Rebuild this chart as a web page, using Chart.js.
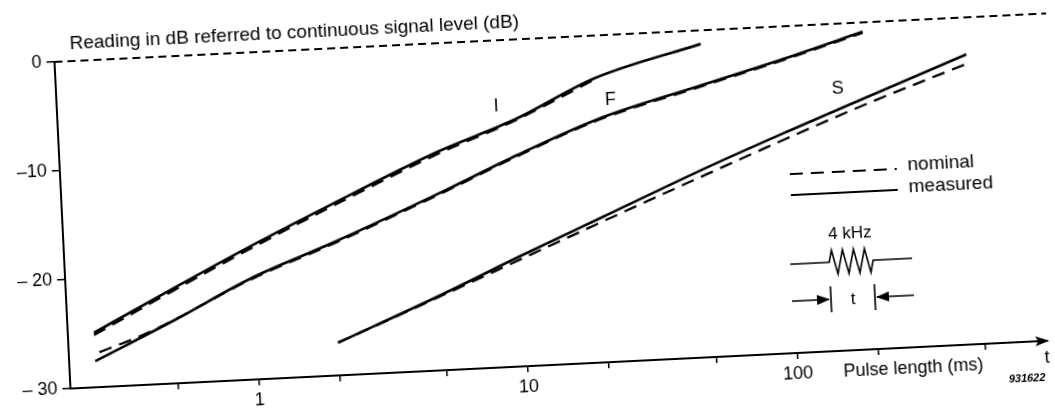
<!DOCTYPE html>
<html lang="en">
<head>
  <meta charset="UTF-8">
  <title>Reading vs pulse length</title>
  <script src="https://cdn.jsdelivr.net/npm/chart.js"></script>
  <style>
    html, body { margin: 0; padding: 0; background: #fff; overflow: hidden; }
    /* the source is a slightly skewed scan, so the whole sheet is turned a little */
    #wrap { width: 1055px; height: 408px; transform: rotate(-2.8deg); transform-origin: 50% 50%; }
  </style>
</head>
<body>
  <div id="wrap"><canvas id="chart" width="1055" height="408"></canvas></div>

  <script>
    // pulse length (ms) and reading (dB) per detector curve
    const iTimes = [0.25, 0.5, 1, 2, 5, 10, 20, 50];
    const iMeasured = [-25.0, -21.3, -17.7, -14.3, -10.0, -7.3, -3.9, -1.25];
    const iNomTimes = [0.25, 0.5, 1, 2, 5, 10, 20];
    const iNominal = [-25.2, -21.5, -17.9, -14.5, -10.2, -7.4, -4.0];

    const fTimes = [0.25, 0.5, 1, 2, 5, 10, 20, 50, 100, 200];
    const fMeasured = [-27.6, -24.2, -20.6, -17.8, -13.8, -10.6, -7.7, -5.0, -3.0, -0.85];
    const fNomTimes = [0.26, 0.4, 1, 2, 5, 10, 20, 50, 100, 200];
    const fNominal = [-26.8, -25.2, -20.7, -17.9, -13.9, -10.7, -7.8, -5.1, -3.1, -0.95];

    const sTimes = [2, 5, 10, 20, 50, 100, 200, 480];
    const sMeasured = [-27.0, -23.0, -19.8, -16.7, -12.6, -9.7, -6.9, -3.4];
    const sNomTimes = [2, 5, 10, 20, 50, 100, 200, 500];
    const sNominal = [-27.0, -23.1, -20.1, -17.1, -13.2, -10.3, -7.5, -4.1];

    const xTicks = [0.5, 1, 2, 5, 10, 20, 50, 100, 200, 500];
    const xTickLabels = ['', '1', '', '', '10', '', '', '100', '', ''];
    const yTicks = [-30, -20, -10, 0];
    const yTickLabels = ['– 30', '– 20', '–10', '0'];

    const curveNames = ['I', 'F', 'S'];
    const legendNames = ['nominal', 'measured'];
    const titleText = 'Reading in dB referred to continuous signal level (dB)';
    const xTitle = 'Pulse length (ms)';

    const FONT = '"Liberation Sans", Arial, Helvetica, sans-serif';
    const DASH = [13, 8];

    function pts(times, vals) {
      return times.map((t, i) => ({ x: t, y: vals[i] }));
    }

    function curve(label, times, vals, dashed) {
      return {
        label,
        data: pts(times, vals),
        borderColor: '#000',
        borderWidth: dashed ? 2.3 : 2.6,
        borderDash: dashed ? DASH : [],
        pointRadius: 0,
        fill: false,
        cubicInterpolationMode: 'monotone'
      };
    }

    // text, reference line, arrow, legend and the little pulse sketch
    const decor = {
      id: 'decor',
      afterDraw(chart) {
        const { ctx, chartArea: a, scales: { x, y } } = chart;
        ctx.save();
        ctx.strokeStyle = '#000';
        ctx.fillStyle = '#000';

        // 0 dB reference, runs past the plot to the sheet edge
        const y0 = y.getPixelForValue(0);
        ctx.lineWidth = 1.8;
        ctx.setLineDash([8, 5]);
        ctx.beginPath();
        ctx.moveTo(a.left, y0);
        ctx.lineTo(chart.width, y0);
        ctx.stroke();
        ctx.setLineDash([]);

        ctx.font = '19px ' + FONT;
        ctx.textAlign = 'left';
        ctx.textBaseline = 'alphabetic';
        ctx.fillText(titleText, a.left + 16, y0 - 12);

        // arrow head on the time axis
        ctx.beginPath();
        ctx.moveTo(a.right + 2, a.bottom);
        ctx.lineTo(a.right - 12, a.bottom - 5);
        ctx.lineTo(a.right - 9, a.bottom);
        ctx.lineTo(a.right - 12, a.bottom + 5);
        ctx.closePath();
        ctx.fill();

        ctx.font = '18px ' + FONT;
        ctx.textAlign = 'center';
        ctx.textBaseline = 'middle';
        ctx.fillText(xTitle, 905, a.bottom + 21);
        ctx.fillText('t', a.right - 1, a.bottom + 17);
        ctx.font = 'italic bold 11px ' + FONT;
        ctx.fillText('931622', a.right - 22, a.bottom + 37);

        // curve names
        ctx.font = '18px ' + FONT;
        const labelAt = [[8.5, -6.1], [22.6, -6.0], [158, -6.0]];
        curveNames.forEach((n, i) => {
          ctx.fillText(n, x.getPixelForValue(labelAt[i][0]), y.getPixelForValue(labelAt[i][1]));
        });

        // legend
        const lx0 = 791, lx1 = 898;
        ctx.lineWidth = 2.2;
        ctx.setLineDash(DASH);
        ctx.beginPath(); ctx.moveTo(lx0, 187); ctx.lineTo(lx1, 187); ctx.stroke();
        ctx.setLineDash([]);
        ctx.beginPath(); ctx.moveTo(lx0, 208); ctx.lineTo(lx1, 208); ctx.stroke();
        ctx.font = '19px ' + FONT;
        ctx.textAlign = 'left';
        ctx.fillText(legendNames[0], 909, 184);
        ctx.fillText(legendNames[1], 909, 206);

        // tone burst sketch
        ctx.font = '17px ' + FONT;
        ctx.textAlign = 'center';
        ctx.fillText('4 kHz', 848, 249);
        const wy = 277, b0 = 826, b1 = 870, amp = 12, cycles = 4;
        ctx.lineWidth = 1.6;
        ctx.beginPath();
        ctx.moveTo(787, wy);
        ctx.lineTo(b0, wy);
        const step = (b1 - b0) / (cycles * 2);
        for (let k = 0; k < cycles * 2; k++) {
          const px = b0 + step * (k + 0.5);
          ctx.lineTo(px, k % 2 === 0 ? wy - amp : wy + amp);
        }
        ctx.lineTo(b1, wy);
        ctx.lineTo(909, wy);
        ctx.stroke();

        // pulse length marker
        const ay = 314;
        ctx.beginPath();
        ctx.moveTo(b0, 301); ctx.lineTo(b0, 327);
        ctx.moveTo(b1, 301); ctx.lineTo(b1, 327);
        ctx.moveTo(787, ay); ctx.lineTo(b0 - 2, ay);
        ctx.moveTo(909, ay); ctx.lineTo(b1 + 2, ay);
        ctx.stroke();
        ctx.beginPath();
        ctx.moveTo(b0 - 1, ay); ctx.lineTo(b0 - 14, ay - 5); ctx.lineTo(b0 - 14, ay + 5); ctx.closePath();
        ctx.moveTo(b1 + 1, ay); ctx.lineTo(b1 + 14, ay - 5); ctx.lineTo(b1 + 14, ay + 5); ctx.closePath();
        ctx.fill();
        ctx.font = '17px ' + FONT;
        ctx.fillText('t', (b0 + b1) / 2, ay + 1);

        ctx.restore();
      }
    };

    new Chart(document.getElementById('chart'), {
      type: 'line',
      data: {
        datasets: [
          curve('I measured', iTimes, iMeasured, false),
          curve('I nominal', iNomTimes, iNominal, true),
          curve('F measured', fTimes, fMeasured, false),
          curve('F nominal', fNomTimes, fNominal, true),
          curve('S measured', sTimes, sMeasured, false),
          curve('S nominal', sNomTimes, sNominal, true)
        ]
      },
      options: {
        responsive: false,
        animation: false,
        layout: { padding: { top: 39, right: 15, left: 0, bottom: 0 } },
        plugins: {
          legend: { display: false },
          tooltip: { enabled: false }
        },
        scales: {
          x: {
            type: 'logarithmic',
            min: 0.2,
            max: 850,
            afterBuildTicks: s => { s.ticks = xTicks.map(v => ({ value: v })); },
            afterFit: s => { s.height = 42; },
            ticks: {
              autoSkip: false,
              maxRotation: 0,
              color: '#000',
              padding: 4,
              font: { family: FONT, size: 18 },
              callback: v => xTickLabels[xTicks.indexOf(v)]
            },
            grid: { drawOnChartArea: false, drawTicks: true, tickLength: 6, color: '#000', lineWidth: 1.5 },
            border: { display: true, color: '#000', width: 2 }
          },
          y: {
            min: -30,
            max: 0,
            afterBuildTicks: s => { s.ticks = yTicks.map(v => ({ value: v })); },
            afterFit: s => { s.width = 62; },
            ticks: {
              color: '#000',
              padding: 5,
              font: { family: FONT, size: 18 },
              callback: v => yTickLabels[yTicks.indexOf(v)]
            },
            grid: { drawOnChartArea: false, drawTicks: true, tickLength: 8, color: '#000', lineWidth: 1.5 },
            border: { display: true, color: '#000', width: 2 }
          }
        }
      },
      plugins: [decor]
    });
  </script>
</body>
</html>
